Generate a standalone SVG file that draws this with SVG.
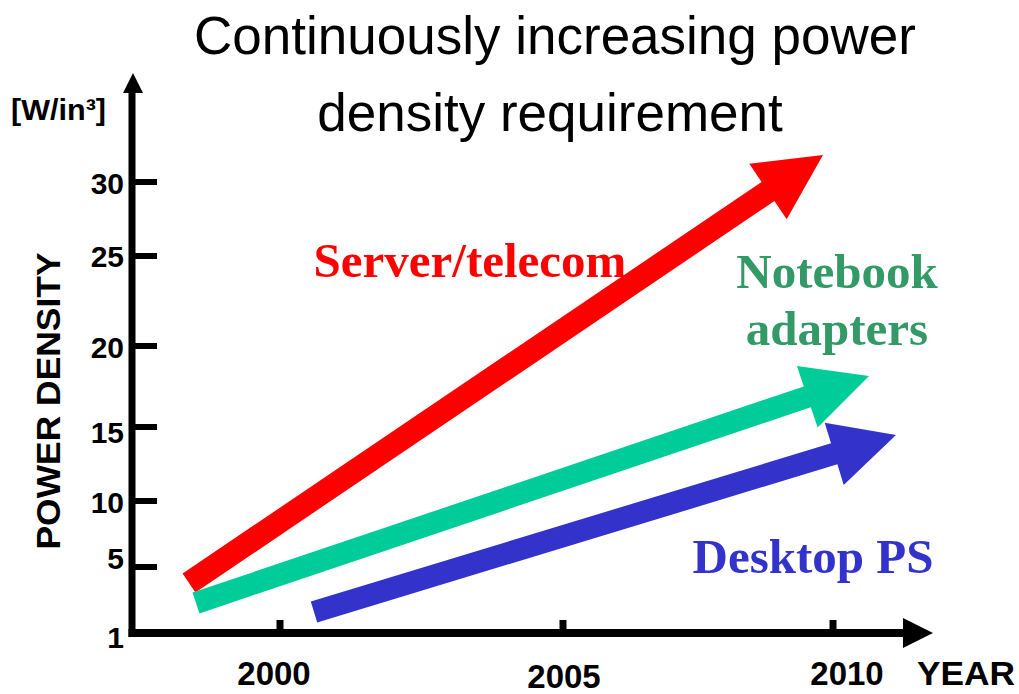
<svg xmlns="http://www.w3.org/2000/svg" width="1019" height="694" viewBox="0 0 1019 694">
<style>
.title{font-family:"Liberation Sans",Arial,sans-serif;font-size:53px;fill:#000}
.ax{font-family:"Liberation Sans",Arial,sans-serif;font-weight:bold;fill:#000}
.ylab{font-size:30px;text-anchor:end}
.xlab{font-size:33px;text-anchor:middle}
.ser{font-family:"Liberation Serif","Times New Roman",serif;font-weight:bold;font-size:49px}
.axis{stroke:#000;fill:none}
</style>
<rect width="1019" height="694" fill="#fff"/>
<g id="title">
<text class="title" x="555" y="54" text-anchor="middle">Continuously increasing power</text>
<text class="title" x="550" y="131" text-anchor="middle">density requirement</text>
</g>
<g id="axes">
<line class="axis" x1="132" y1="88" x2="132" y2="637" stroke-width="7"/>
<polygon points="123,93 133,73 143,93" fill="#000"/>
<line class="axis" x1="128.5" y1="633" x2="905" y2="633" stroke-width="8"/>
<polygon points="903,618 933,633 903,648" fill="#000"/>
<g stroke="#000" stroke-width="6">
<line x1="132" y1="182" x2="157" y2="182"/>
<line x1="132" y1="256" x2="157" y2="256"/>
<line x1="132" y1="346" x2="157" y2="346"/>
<line x1="132" y1="427" x2="157" y2="427"/>
<line x1="132" y1="501" x2="157" y2="501"/>
<line x1="132" y1="567" x2="157" y2="567"/>
</g>
<g stroke="#000" stroke-width="7">
<line x1="280" y1="620" x2="280" y2="630"/>
<line x1="563" y1="620" x2="563" y2="630"/>
<line x1="833" y1="620" x2="833" y2="630"/>
</g>
<text class="ax" x="11" y="120" font-size="29" textLength="95" lengthAdjust="spacingAndGlyphs">[W/in³]</text>
<text class="ax ylab" x="124" y="194">30</text>
<text class="ax ylab" x="124" y="267">25</text>
<text class="ax ylab" x="124" y="358">20</text>
<text class="ax ylab" x="124" y="443">15</text>
<text class="ax ylab" x="124" y="513">10</text>
<text class="ax ylab" x="124" y="569">5</text>
<text class="ax ylab" x="124" y="648">1</text>
<text class="ax" font-size="33" transform="translate(60,401) rotate(-90)" text-anchor="middle" textLength="297" lengthAdjust="spacingAndGlyphs">POWER DENSITY</text>
<text class="ax xlab" x="274" y="685">2000</text>
<text class="ax xlab" x="564" y="688">2005</text>
<text class="ax xlab" x="847" y="685">2010</text>
<text class="ax" x="917" y="685" font-size="33" textLength="98" lengthAdjust="spacingAndGlyphs">YEAR</text>
</g>
<g id="connectors">
<polygon id="arrow-server" fill="#FF0000" points="182.6,573.5 761.6,182 749.3,163.8 823,155 786.7,219.2 774.4,201 195.4,592.5"/>
<polygon id="arrow-notebook" fill="#00CC99" points="192.5,592.6 803.8,386.4 796.9,366.1 869,376 817.7,427.5 810.8,407.2 199.5,613.4"/>
<polygon id="arrow-desktop" fill="#3333CC" points="310.8,601.5 831,443.3 824.7,422.7 896,435 843.7,484.9 837.4,464.3 317.2,622.5"/>
</g>
<g id="server">
<text class="ser" x="470" y="277" text-anchor="middle" fill="#FF0000">Server/telecom</text>
</g>
<g id="notebook">
<text class="ser" x="837" y="288" text-anchor="middle" fill="#339966">Notebook</text>
<text class="ser" x="837" y="345" text-anchor="middle" fill="#339966">adapters</text>
</g>
<g id="desktop">
<text class="ser" x="813" y="573" text-anchor="middle" fill="#3333CC">Desktop PS</text>
</g>
</svg>
